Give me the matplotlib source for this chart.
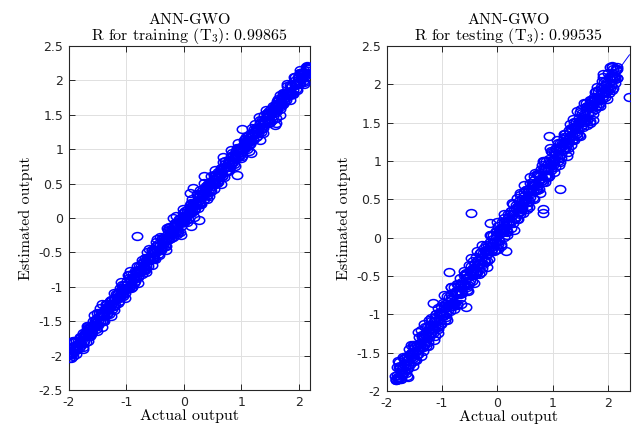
import matplotlib
matplotlib.use("Agg")
import matplotlib.pyplot as plt
from matplotlib.path import Path
import numpy as np

plt.rcParams['mathtext.fontset'] = 'cm'

# ---- training set (actual, estimated) ----
train_actual = [
    -2.02, -2.00, -1.98, -1.96, -1.94, -1.92, -1.90, -1.88, -1.86, -1.84,
    -1.82, -1.80, -1.78, -1.76, -1.74, -1.72, -1.70, -1.68, -1.66, -1.64,
    -1.62, -1.60, -1.58, -1.56, -1.54, -1.52, -1.50, -1.48, -1.46, -1.44,
    -1.42, -1.40, -1.38, -1.36, -1.34, -1.32, -1.30, -1.28, -1.26, -1.24,
    -1.22, -1.20, -1.18, -1.16, -1.14, -1.12, -1.10, -1.08, -1.06, -1.04,
    -1.02, -1.00, -0.98, -0.96, -0.94, -0.92, -0.90, -0.88, -0.86, -0.84,
    -0.82, -0.80, -0.78, -0.76, -0.74, -0.72, -0.70, -0.68, -0.66, -0.64,
    -0.62, -0.60, -0.58, -0.56, -0.54, -0.52, -0.50, -0.48, -0.46, -0.44,
    -0.42, -0.40, -0.38, -0.36, -0.34, -0.32, -0.30, -0.28, -0.26, -0.24,
    -0.22, -0.20, -0.18, -0.16, -0.14, -0.12, -0.10, -0.08, -0.06, -0.04,
    -0.02, 0.00, 0.02, 0.04, 0.06, 0.08, 0.10, 0.12, 0.14, 0.16,
    0.18, 0.20, 0.22, 0.24, 0.26, 0.28, 0.30, 0.32, 0.34, 0.36,
    0.38, 0.40, 0.42, 0.44, 0.46, 0.48, 0.50, 0.52, 0.54, 0.56,
    0.58, 0.60, 0.62, 0.64, 0.66, 0.68, 0.70, 0.72, 0.74, 0.76,
    0.78, 0.80, 0.82, 0.84, 0.86, 0.88, 0.90, 0.92, 0.94, 0.96,
    0.98, 1.00, 1.02, 1.04, 1.06, 1.08, 1.10, 1.12, 1.14, 1.16,
    1.18, 1.20, 1.22, 1.24, 1.26, 1.28, 1.30, 1.32, 1.34, 1.36,
    1.38, 1.40, 1.42, 1.44, 1.46, 1.48, 1.50, 1.52, 1.54, 1.56,
    1.58, 1.60, 1.62, 1.64, 1.66, 1.68, 1.70, 1.72, 1.74, 1.76,
    1.78, 1.80, 1.82, 1.84, 1.86, 1.88, 1.90, 1.92, 1.94, 1.96,
    1.98, 2.00, 2.02, 2.04, 2.06, 2.08, 2.10, 2.12, 2.14, 2.16, 2.18,
    -1.99, -1.95, -1.91, -1.87, -1.83, -1.79, -1.75, -1.71, -1.67, -1.63,
    -1.59, -1.55, -1.51, -1.47, -1.43, -1.39, -1.35, -1.31, -1.27, -1.23,
    -1.19, -1.15, -1.11, -1.07, -1.03, -0.99, -0.95, -0.91, -0.87, -0.83,
    -0.79, -0.75, -0.71, -0.67, -0.63, -0.59, -0.55, -0.51, -0.47, -0.43,
    -0.39, -0.35, -0.31, -0.27, -0.23, -0.19, -0.15, -0.11, -0.07, -0.03,
    0.01, 0.05, 0.09, 0.13, 0.17, 0.21, 0.25, 0.29, 0.33, 0.37,
    0.41, 0.45, 0.49, 0.53, 0.57, 0.61, 0.65, 0.69, 0.73, 0.77,
    0.81, 0.85, 0.89, 0.93, 0.97, 1.01, 1.05, 1.09, 1.13, 1.17,
    1.21, 1.25, 1.29, 1.33, 1.37, 1.41, 1.45, 1.49, 1.53, 1.57,
    1.61, 1.65, 1.69, 1.73, 1.77, 1.81, 1.85, 1.89, 1.93, 1.97,
    2.01, 2.05, 2.09, 2.13, 2.17,
    -1.97, -1.94, -1.91, -1.88, -1.85, -1.82, -1.79, -1.76, -1.73, -1.70,
    -1.67, -1.64, -1.61, -1.58, -1.55, -1.52, -1.49, -1.46, -1.43, -1.40,
    -1.37, -1.34, -1.31, -1.28, -1.25, -1.22, -1.19, -1.16, -1.13, -1.10,
    -1.07, -1.04, -1.01, -0.98, -0.95, -0.92, -0.89, -0.86, -0.83, -0.80,
    -0.77, -0.74, -0.71, -0.68, -0.65, -0.62, -0.59, -0.56, -0.53, -0.50,
    -0.47, -0.44, -0.41, -0.38, -0.35, -0.32, -0.29, -0.26, -0.23, -0.20,
    -0.17, -0.14, -0.11, -0.08, -0.05, -0.02, 0.01, 0.04, 0.07, 0.10,
    0.13, 0.16, 0.19, 0.22, 0.25, 0.28, 0.31, 0.34, 0.37, 0.40,
    0.43, 0.46, 0.49, 0.52, 0.55, 0.58, 0.61, 0.64, 0.67, 0.70,
    0.73, 0.76, 0.79, 0.82, 0.85, 0.88, 0.91, 0.94, 0.97, 1.00,
    1.03, 1.06, 1.09, 1.12, 1.15, 1.18, 1.21, 1.24, 1.27, 1.30,
    1.33, 1.36, 1.39, 1.42, 1.45, 1.48, 1.51, 1.54, 1.57, 1.60,
    1.63, 1.66, 1.69, 1.72, 1.75, 1.78, 1.81, 1.84, 1.87, 1.90,
    1.93, 1.96, 1.99, 2.02, 2.05, 2.08, 2.11, 2.14, 2.17,
    -1.96, -1.91, -1.86, -1.81, -1.76, -1.71, -1.66, -1.61, -1.56, -1.51,
    -1.46, -1.41, -1.36, -1.31, -1.26, -1.21, -1.16, -1.11, -1.06, -1.01,
    -0.96, -0.91, -0.86, -0.81, -0.76, -0.71, -0.66, -0.61, -0.56, -0.51,
    -0.46, -0.41, -0.36, -0.31, -0.26, -0.21, -0.16, -0.11, -0.06, -0.01,
    0.04, 0.09, 0.14, 0.19, 0.24, 0.29, 0.34, 0.39, 0.44, 0.49,
    0.54, 0.59, 0.64, 0.69, 0.74, 0.79, 0.84, 0.89, 0.94, 0.99,
    1.04, 1.09, 1.14, 1.19, 1.24, 1.29, 1.34, 1.39, 1.44, 1.49,
    1.54, 1.59, 1.64, 1.69, 1.74, 1.79, 1.84, 1.89, 1.94, 1.99,
    2.04, 2.09, 2.14,
    -1.93, -1.87, -1.81, -1.75, -1.69, -1.63, -1.57, -1.51, -1.45, -1.39,
    -1.33, -1.27, -1.21, -1.15, -1.09, -1.03, -0.97, -0.91, -0.85, -0.79,
    -0.73, -0.67, -0.61, -0.55, -0.49, -0.43, -0.37, -0.31, -0.25, -0.19,
    -0.13, -0.07, -0.01, 0.05, 0.11, 0.17, 0.23, 0.29, 0.35, 0.41,
    0.47, 0.53, 0.59, 0.65, 0.71, 0.77, 0.83, 0.89, 0.95, 1.01,
    1.07, 1.13, 1.19, 1.25, 1.31, 1.37, 1.43, 1.49, 1.55, 1.61,
    1.67, 1.73, 1.79, 1.85, 1.91, 1.97, 2.03, 2.09, 2.15,
    -0.81, 1.02, -0.64, -0.93, -1.43, -1.43, -1.91, -1.67, -0.46, -0.29,
    -0.19, -0.04, 0.10, 0.16, 0.35, 0.27, 0.12, 1.17, 0.92, 1.61,
    1.58, 1.32, 0.68, 0.54, 1.67, 2.02, 2.19,
]
train_estimated = [
    -1.99, -2.04, -1.90, -1.98, -1.89, -2.01, -1.89, -1.78, -1.90, -1.78,
    -1.89, -1.78, -1.81, -1.67, -1.79, -1.68, -1.80, -1.61, -1.66, -1.72,
    -1.59, -1.66, -1.50, -1.58, -1.49, -1.61, -1.49, -1.38, -1.50, -1.38,
    -1.49, -1.38, -1.41, -1.27, -1.39, -1.28, -1.40, -1.21, -1.26, -1.32,
    -1.19, -1.26, -1.10, -1.18, -1.09, -1.21, -1.09, -0.98, -1.10, -0.98,
    -1.09, -0.98, -1.01, -0.87, -0.99, -0.88, -1.00, -0.81, -0.86, -0.92,
    -0.79, -0.86, -0.70, -0.78, -0.69, -0.81, -0.69, -0.58, -0.70, -0.58,
    -0.69, -0.58, -0.61, -0.47, -0.59, -0.48, -0.60, -0.41, -0.46, -0.52,
    -0.39, -0.46, -0.30, -0.38, -0.29, -0.41, -0.29, -0.18, -0.30, -0.18,
    -0.29, -0.18, -0.21, -0.07, -0.19, -0.08, -0.20, -0.01, -0.06, -0.12,
    0.01, -0.06, 0.10, 0.02, 0.11, -0.01, 0.11, 0.22, 0.10, 0.22,
    0.11, 0.22, 0.19, 0.33, 0.21, 0.32, 0.20, 0.39, 0.34, 0.28,
    0.41, 0.34, 0.50, 0.42, 0.51, 0.39, 0.51, 0.62, 0.50, 0.62,
    0.51, 0.62, 0.59, 0.73, 0.61, 0.72, 0.60, 0.79, 0.74, 0.68,
    0.81, 0.74, 0.90, 0.82, 0.91, 0.79, 0.91, 1.02, 0.90, 1.02,
    0.91, 1.02, 0.99, 1.13, 1.01, 1.12, 1.00, 1.19, 1.14, 1.08,
    1.21, 1.14, 1.30, 1.22, 1.31, 1.19, 1.31, 1.42, 1.30, 1.42,
    1.31, 1.42, 1.39, 1.53, 1.41, 1.52, 1.40, 1.59, 1.54, 1.48,
    1.61, 1.54, 1.70, 1.62, 1.71, 1.59, 1.71, 1.82, 1.70, 1.82,
    1.71, 1.82, 1.79, 1.93, 1.81, 1.92, 1.80, 1.99, 1.94, 1.88,
    2.01, 1.94, 2.10, 2.02, 2.11, 1.99, 2.11, 2.19, 2.10, 2.18, 2.16,
    -1.99, -1.98, -1.87, -1.88, -1.81, -1.84, -1.72, -1.71, -1.70, -1.59,
    -1.60, -1.53, -1.56, -1.44, -1.43, -1.42, -1.31, -1.32, -1.25, -1.28,
    -1.16, -1.15, -1.14, -1.03, -1.04, -0.97, -1.00, -0.88, -0.87, -0.86,
    -0.75, -0.76, -0.69, -0.72, -0.60, -0.59, -0.58, -0.47, -0.48, -0.41,
    -0.44, -0.32, -0.31, -0.30, -0.19, -0.20, -0.13, -0.16, -0.04, -0.03,
    -0.02, 0.09, 0.08, 0.15, 0.12, 0.24, 0.25, 0.26, 0.37, 0.36,
    0.43, 0.40, 0.52, 0.53, 0.54, 0.65, 0.64, 0.71, 0.68, 0.80,
    0.81, 0.82, 0.93, 0.92, 0.99, 0.96, 1.08, 1.09, 1.10, 1.21,
    1.20, 1.27, 1.24, 1.36, 1.37, 1.38, 1.49, 1.48, 1.55, 1.52,
    1.64, 1.65, 1.66, 1.77, 1.76, 1.83, 1.80, 1.92, 1.93, 1.94,
    2.05, 2.04, 2.11, 2.08, 2.18,
    -1.95, -1.96, -1.86, -1.92, -1.84, -1.83, -1.73, -1.82, -1.70, -1.68,
    -1.69, -1.59, -1.65, -1.57, -1.56, -1.46, -1.55, -1.43, -1.41, -1.42,
    -1.32, -1.38, -1.30, -1.29, -1.19, -1.28, -1.16, -1.14, -1.15, -1.05,
    -1.11, -1.03, -1.02, -0.92, -1.01, -0.89, -0.87, -0.88, -0.78, -0.84,
    -0.76, -0.75, -0.65, -0.74, -0.62, -0.60, -0.61, -0.51, -0.57, -0.49,
    -0.48, -0.38, -0.47, -0.35, -0.33, -0.34, -0.24, -0.30, -0.22, -0.21,
    -0.11, -0.20, -0.08, -0.06, -0.07, 0.03, -0.03, 0.05, 0.06, 0.16,
    0.07, 0.19, 0.21, 0.20, 0.30, 0.24, 0.32, 0.33, 0.43, 0.34,
    0.46, 0.48, 0.47, 0.57, 0.51, 0.59, 0.60, 0.70, 0.61, 0.73,
    0.75, 0.74, 0.84, 0.78, 0.86, 0.87, 0.97, 0.88, 1.00, 1.02,
    1.01, 1.11, 1.05, 1.13, 1.14, 1.24, 1.15, 1.27, 1.29, 1.28,
    1.38, 1.32, 1.40, 1.41, 1.51, 1.42, 1.54, 1.56, 1.55, 1.65,
    1.59, 1.67, 1.68, 1.78, 1.69, 1.81, 1.83, 1.82, 1.92, 1.86,
    1.94, 1.95, 2.05, 1.96, 2.08, 2.10, 2.09, 2.19, 2.13,
    -2.03, -1.80, -1.88, -1.74, -1.88, -1.67, -1.57, -1.68, -1.56, -1.38,
    -1.51, -1.50, -1.25, -1.33, -1.19, -1.33, -1.12, -1.02, -1.13, -1.01,
    -0.83, -0.96, -0.95, -0.70, -0.78, -0.64, -0.78, -0.57, -0.47, -0.58,
    -0.46, -0.28, -0.41, -0.40, -0.15, -0.23, -0.09, -0.23, -0.02, 0.08,
    -0.03, 0.09, 0.27, 0.14, 0.15, 0.40, 0.32, 0.46, 0.32, 0.53,
    0.63, 0.52, 0.64, 0.82, 0.69, 0.70, 0.95, 0.87, 1.01, 0.87,
    1.08, 1.18, 1.07, 1.19, 1.37, 1.24, 1.25, 1.50, 1.42, 1.56,
    1.42, 1.63, 1.73, 1.62, 1.74, 1.92, 1.79, 1.80, 2.05, 1.97,
    2.11, 1.97, 2.18,
    -1.79, -1.98, -1.73, -1.90, -1.57, -1.71, -1.41, -1.64, -1.31, -1.50,
    -1.25, -1.42, -1.09, -1.23, -0.93, -1.16, -0.83, -1.02, -0.77, -0.94,
    -0.61, -0.75, -0.45, -0.68, -0.35, -0.54, -0.29, -0.46, -0.13, -0.27,
    0.03, -0.20, 0.13, -0.06, 0.19, 0.02, 0.35, 0.21, 0.51, 0.28,
    0.61, 0.42, 0.67, 0.50, 0.83, 0.69, 0.99, 0.76, 1.09, 0.90,
    1.15, 0.98, 1.31, 1.17, 1.47, 1.24, 1.57, 1.38, 1.63, 1.46,
    1.79, 1.65, 1.95, 1.72, 2.05, 1.86, 2.11, 1.94, 2.21,
    -0.26, 1.30, -0.50, -0.77, -1.25, -1.59, -1.79, -1.78, -0.30, -0.14,
    0.00, -0.25, 0.36, 0.44, 0.61, -0.03, -0.12, 0.95, 0.62, 1.38,
    1.35, 1.13, 0.89, 0.70, 1.50, 2.15, 2.20,
]

# ---- testing set (actual, estimated) ----
test_actual = [
    -1.85, -1.83, -1.81, -1.79, -1.77, -1.75, -1.73, -1.71, -1.69, -1.67,
    -1.65, -1.63, -1.61, -1.59, -1.57, -1.55, -1.53, -1.51, -1.49, -1.47,
    -1.45, -1.43, -1.41, -1.39, -1.37, -1.35, -1.33, -1.31, -1.29, -1.27,
    -1.25, -1.23, -1.21, -1.19, -1.17, -1.15, -1.13, -1.11, -1.09, -1.07,
    -1.05, -1.03, -1.01, -0.99, -0.97, -0.95, -0.93, -0.91, -0.89, -0.87,
    -0.85, -0.83, -0.81, -0.79, -0.77, -0.75, -0.73, -0.71, -0.69, -0.67,
    -0.65, -0.63, -0.61, -0.59, -0.57, -0.55, -0.53, -0.51, -0.49, -0.47,
    -0.45, -0.43, -0.41, -0.39, -0.37, -0.35, -0.33, -0.31, -0.29, -0.27,
    -0.25, -0.23, -0.21, -0.19, -0.17, -0.15, -0.13, -0.11, -0.09, -0.07,
    -0.05, -0.03, -0.01, 0.01, 0.03, 0.05, 0.07, 0.09, 0.11, 0.13,
    0.15, 0.17, 0.19, 0.21, 0.23, 0.25, 0.27, 0.29, 0.31, 0.33,
    0.35, 0.37, 0.39, 0.41, 0.43, 0.45, 0.47, 0.49, 0.51, 0.53,
    0.55, 0.57, 0.59, 0.61, 0.63, 0.65, 0.67, 0.69, 0.71, 0.73,
    0.75, 0.77, 0.79, 0.81, 0.83, 0.85, 0.87, 0.89, 0.91, 0.93,
    0.95, 0.97, 0.99, 1.01, 1.03, 1.05, 1.07, 1.09, 1.11, 1.13,
    1.15, 1.17, 1.19, 1.21, 1.23, 1.25, 1.27, 1.29, 1.31, 1.33,
    1.35, 1.37, 1.39, 1.41, 1.43, 1.45, 1.47, 1.49, 1.51, 1.53,
    1.55, 1.57, 1.59, 1.61, 1.63, 1.65, 1.67, 1.69, 1.71, 1.73,
    1.75, 1.77, 1.79, 1.81, 1.83, 1.85, 1.87, 1.89, 1.91, 1.93,
    1.95, 1.97, 1.99, 2.01, 2.03, 2.05, 2.07, 2.09, 2.11, 2.13, 2.15, 2.17,
    -1.84, -1.80, -1.76, -1.72, -1.68, -1.64, -1.60, -1.56, -1.52, -1.48,
    -1.44, -1.40, -1.36, -1.32, -1.28, -1.24, -1.20, -1.16, -1.12, -1.08,
    -1.04, -1.00, -0.96, -0.92, -0.88, -0.84, -0.80, -0.76, -0.72, -0.68,
    -0.64, -0.60, -0.56, -0.52, -0.48, -0.44, -0.40, -0.36, -0.32, -0.28,
    -0.24, -0.20, -0.16, -0.12, -0.08, -0.04, 0.00, 0.04, 0.08, 0.12,
    0.16, 0.20, 0.24, 0.28, 0.32, 0.36, 0.40, 0.44, 0.48, 0.52,
    0.56, 0.60, 0.64, 0.68, 0.72, 0.76, 0.80, 0.84, 0.88, 0.92,
    0.96, 1.00, 1.04, 1.08, 1.12, 1.16, 1.20, 1.24, 1.28, 1.32,
    1.36, 1.40, 1.44, 1.48, 1.52, 1.56, 1.60, 1.64, 1.68, 1.72,
    1.76, 1.80, 1.84, 1.88, 1.92, 1.96, 2.00, 2.04, 2.08, 2.12, 2.16,
    -1.82, -1.79, -1.76, -1.73, -1.70, -1.67, -1.64, -1.61, -1.58, -1.55,
    -1.52, -1.49, -1.46, -1.43, -1.40, -1.37, -1.34, -1.31, -1.28, -1.25,
    -1.22, -1.19, -1.16, -1.13, -1.10, -1.07, -1.04, -1.01, -0.98, -0.95,
    -0.92, -0.89, -0.86, -0.83, -0.80, -0.77, -0.74, -0.71, -0.68, -0.65,
    -0.62, -0.59, -0.56, -0.53, -0.50, -0.47, -0.44, -0.41, -0.38, -0.35,
    -0.32, -0.29, -0.26, -0.23, -0.20, -0.17, -0.14, -0.11, -0.08, -0.05,
    -0.02, 0.01, 0.04, 0.07, 0.10, 0.13, 0.16, 0.19, 0.22, 0.25,
    0.28, 0.31, 0.34, 0.37, 0.40, 0.43, 0.46, 0.49, 0.52, 0.55,
    0.58, 0.61, 0.64, 0.67, 0.70, 0.73, 0.76, 0.79, 0.82, 0.85,
    0.88, 0.91, 0.94, 0.97, 1.00, 1.03, 1.06, 1.09, 1.12, 1.15,
    1.18, 1.21, 1.24, 1.27, 1.30, 1.33, 1.36, 1.39, 1.42, 1.45,
    1.48, 1.51, 1.54, 1.57, 1.60, 1.63, 1.66, 1.69, 1.72, 1.75,
    1.78, 1.81, 1.84, 1.87, 1.90, 1.93, 1.96, 1.99, 2.02, 2.05,
    2.08, 2.11, 2.14, 2.17,
    -1.83, -1.78, -1.73, -1.68, -1.63, -1.58, -1.53, -1.48, -1.43, -1.38,
    -1.33, -1.28, -1.23, -1.18, -1.13, -1.08, -1.03, -0.98, -0.93, -0.88,
    -0.83, -0.78, -0.73, -0.68, -0.63, -0.58, -0.53, -0.48, -0.43, -0.38,
    -0.33, -0.28, -0.23, -0.18, -0.13, -0.08, -0.03, 0.02, 0.07, 0.12,
    0.17, 0.22, 0.27, 0.32, 0.37, 0.42, 0.47, 0.52, 0.57, 0.62,
    0.67, 0.72, 0.77, 0.82, 0.87, 0.92, 0.97, 1.02, 1.07, 1.12,
    1.17, 1.22, 1.27, 1.32, 1.37, 1.42, 1.47, 1.52, 1.57, 1.62,
    1.67, 1.72, 1.77, 1.82, 1.87, 1.92, 1.97, 2.02, 2.07, 2.12,
    -1.80, -1.74, -1.68, -1.62, -1.56, -1.50, -1.44, -1.38, -1.32, -1.26,
    -1.20, -1.14, -1.08, -1.02, -0.96, -0.90, -0.84, -0.78, -0.72, -0.66,
    -0.60, -0.54, -0.48, -0.42, -0.36, -0.30, -0.24, -0.18, -0.12, -0.06,
    0.00, 0.06, 0.12, 0.18, 0.24, 0.30, 0.36, 0.42, 0.48, 0.54,
    0.60, 0.66, 0.72, 0.78, 0.84, 0.90, 0.96, 1.02, 1.08, 1.14,
    1.20, 1.26, 1.32, 1.38, 1.44, 1.50, 1.56, 1.62, 1.68, 1.74,
    1.80, 1.86, 1.92, 1.98, 2.04, 2.10, 2.16,
    -0.48, 1.13, 0.93, 0.83, 0.82, 0.15, -0.87, -1.16, -0.57, -0.14,
    2.39, 2.07, -1.80,
]
test_estimated = [
    -1.80, -1.86, -1.69, -1.82, -1.69, -1.84, -1.71, -1.56, -1.75, -1.57,
    -1.76, -1.59, -1.66, -1.45, -1.65, -1.49, -1.68, -1.40, -1.49, -1.59,
    -1.40, -1.52, -1.29, -1.42, -1.29, -1.48, -1.31, -1.16, -1.35, -1.17,
    -1.36, -1.19, -1.26, -1.05, -1.25, -1.09, -1.28, -1.00, -1.09, -1.19,
    -1.00, -1.12, -0.89, -1.02, -0.89, -1.08, -0.91, -0.76, -0.95, -0.77,
    -0.96, -0.79, -0.86, -0.65, -0.85, -0.69, -0.88, -0.60, -0.69, -0.79,
    -0.60, -0.72, -0.49, -0.62, -0.49, -0.68, -0.51, -0.36, -0.55, -0.37,
    -0.56, -0.39, -0.46, -0.25, -0.45, -0.29, -0.48, -0.20, -0.29, -0.39,
    -0.20, -0.32, -0.09, -0.22, -0.09, -0.28, -0.11, 0.04, -0.15, 0.03,
    -0.16, 0.01, -0.06, 0.15, -0.05, 0.11, -0.08, 0.20, 0.11, 0.01,
    0.20, 0.08, 0.31, 0.18, 0.31, 0.12, 0.29, 0.44, 0.25, 0.43,
    0.24, 0.41, 0.34, 0.55, 0.35, 0.51, 0.32, 0.60, 0.51, 0.41,
    0.60, 0.48, 0.71, 0.58, 0.71, 0.52, 0.69, 0.84, 0.65, 0.83,
    0.64, 0.81, 0.74, 0.95, 0.75, 0.91, 0.72, 1.00, 0.91, 0.81,
    1.00, 0.88, 1.11, 0.98, 1.11, 0.92, 1.09, 1.24, 1.05, 1.23,
    1.04, 1.21, 1.14, 1.35, 1.15, 1.31, 1.12, 1.40, 1.31, 1.21,
    1.40, 1.28, 1.51, 1.38, 1.51, 1.32, 1.49, 1.64, 1.45, 1.63,
    1.44, 1.61, 1.54, 1.75, 1.55, 1.71, 1.52, 1.80, 1.71, 1.61,
    1.80, 1.68, 1.91, 1.78, 1.91, 1.72, 1.89, 2.04, 1.85, 2.03,
    1.84, 2.01, 1.94, 2.15, 1.95, 2.11, 1.92, 2.20, 2.11, 2.01, 2.19, 2.08,
    -1.84, -1.85, -1.70, -1.74, -1.65, -1.71, -1.56, -1.56, -1.57, -1.42,
    -1.46, -1.37, -1.43, -1.28, -1.28, -1.29, -1.14, -1.18, -1.09, -1.15,
    -1.00, -1.00, -1.01, -0.86, -0.90, -0.81, -0.87, -0.72, -0.72, -0.73,
    -0.58, -0.62, -0.53, -0.59, -0.44, -0.44, -0.45, -0.30, -0.34, -0.25,
    -0.31, -0.16, -0.16, -0.17, -0.02, -0.06, 0.03, -0.03, 0.12, 0.12,
    0.11, 0.26, 0.22, 0.31, 0.25, 0.40, 0.40, 0.39, 0.54, 0.50,
    0.59, 0.53, 0.68, 0.68, 0.67, 0.82, 0.78, 0.87, 0.81, 0.96,
    0.96, 0.95, 1.10, 1.06, 1.15, 1.09, 1.24, 1.24, 1.23, 1.38,
    1.34, 1.43, 1.37, 1.52, 1.52, 1.51, 1.66, 1.62, 1.71, 1.65,
    1.80, 1.80, 1.79, 1.94, 1.90, 1.99, 1.93, 2.08, 2.08, 2.07, 2.22,
    -1.79, -1.82, -1.68, -1.79, -1.69, -1.68, -1.54, -1.70, -1.53, -1.52,
    -1.55, -1.41, -1.52, -1.42, -1.41, -1.27, -1.43, -1.26, -1.25, -1.28,
    -1.14, -1.25, -1.15, -1.14, -1.00, -1.16, -0.99, -0.98, -1.01, -0.87,
    -0.98, -0.88, -0.87, -0.73, -0.89, -0.72, -0.71, -0.74, -0.60, -0.71,
    -0.61, -0.60, -0.46, -0.62, -0.45, -0.44, -0.47, -0.33, -0.44, -0.34,
    -0.33, -0.19, -0.35, -0.18, -0.17, -0.20, -0.06, -0.17, -0.07, -0.06,
    0.08, -0.08, 0.09, 0.10, 0.07, 0.21, 0.10, 0.20, 0.21, 0.35,
    0.19, 0.36, 0.37, 0.34, 0.48, 0.37, 0.47, 0.48, 0.62, 0.46,
    0.63, 0.64, 0.61, 0.75, 0.64, 0.74, 0.75, 0.89, 0.73, 0.90,
    0.91, 0.88, 1.02, 0.91, 1.01, 1.02, 1.16, 1.00, 1.17, 1.18,
    1.15, 1.29, 1.18, 1.28, 1.29, 1.43, 1.27, 1.44, 1.45, 1.42,
    1.56, 1.45, 1.55, 1.56, 1.70, 1.54, 1.71, 1.72, 1.69, 1.83,
    1.72, 1.82, 1.83, 1.97, 1.81, 1.98, 1.99, 1.96, 2.10, 1.99,
    2.09, 2.10, 2.20, 2.08,
    -1.86, -1.62, -1.76, -1.58, -1.80, -1.52, -1.40, -1.58, -1.43, -1.20,
    -1.40, -1.41, -1.07, -1.21, -1.03, -1.25, -0.97, -0.85, -1.03, -0.88,
    -0.65, -0.85, -0.86, -0.52, -0.66, -0.48, -0.70, -0.42, -0.30, -0.48,
    -0.33, -0.10, -0.30, -0.31, 0.03, -0.11, 0.07, -0.15, 0.13, 0.25,
    0.07, 0.22, 0.45, 0.25, 0.24, 0.58, 0.44, 0.62, 0.40, 0.68,
    0.80, 0.62, 0.77, 1.00, 0.80, 0.79, 1.13, 0.99, 1.17, 0.95,
    1.23, 1.35, 1.17, 1.32, 1.55, 1.35, 1.34, 1.68, 1.54, 1.72,
    1.50, 1.78, 1.90, 1.72, 1.87, 2.10, 1.90, 1.89, 2.23, 2.09,
    -1.61, -1.84, -1.57, -1.82, -1.40, -1.61, -1.23, -1.55, -1.13, -1.41,
    -1.09, -1.34, -0.92, -1.13, -0.75, -1.07, -0.65, -0.93, -0.61, -0.86,
    -0.44, -0.65, -0.27, -0.59, -0.17, -0.45, -0.13, -0.38, 0.04, -0.17,
    0.21, -0.11, 0.31, 0.03, 0.35, 0.10, 0.52, 0.31, 0.69, 0.37,
    0.79, 0.51, 0.83, 0.58, 1.00, 0.79, 1.17, 0.85, 1.27, 0.99,
    1.31, 1.06, 1.48, 1.27, 1.65, 1.33, 1.75, 1.47, 1.79, 1.54,
    1.96, 1.75, 2.13, 1.81, 2.23, 1.95, 2.20,
    0.32, 0.64, 1.32, 0.32, 0.37, -0.18, -0.45, -0.85, -0.90, 0.19,
    1.83, 2.24, -1.85,
]

panels = [
    (train_actual, train_estimated, "training", "0.99865", (-2, 2.2), (-2.5, 2.5),
     [-2.5, -2, -1.5, -1, -0.5, 0, 0.5, 1, 1.5, 2, 2.5], [0.108, 0.082, 0.379, 0.810]),
    (test_actual, test_estimated, "testing", "0.99535", (-2, 2.4), (-2, 2.5),
     [-2, -1.5, -1, -0.5, 0, 0.5, 1, 1.5, 2, 2.5], [0.607, 0.080, 0.382, 0.812]),
]

# the source figure was stretched sideways, so the circles come out as flat ellipses
circ = Path.unit_circle()
oval = Path(circ.vertices * [1.0, 0.75], circ.codes)

fig = plt.figure(figsize=(6.37, 4.25), dpi=100)
edge = (0.15, 0.15, 0.15)

for xs, ys, name, r_val, xlim, ylim, yticks, rect in panels:
    ax = fig.add_axes(rect)
    xs = np.array(xs)
    ys = np.array(ys)
    ax.plot(xs, ys, linestyle='none', marker=oval, mfc='none', mec='b',
            ms=7.5, mew=1.1, zorder=3)
    # least squares fit line over the data range
    coef = np.polyfit(xs, ys, 1)
    xl = np.array([xs.min(), xs.max()])
    ax.plot(xl, np.polyval(coef, xl), '-', color='b', lw=0.7, zorder=4)

    ax.set_xlim(xlim)
    ax.set_ylim(ylim)
    ax.set_xticks([-2, -1, 0, 1, 2])
    ax.set_xticklabels(["-2", "-1", "0", "1", "2"])
    ax.set_yticks(yticks)
    ax.set_yticklabels([f"{v:g}" for v in yticks])
    ax.grid(True, color=(0.88, 0.88, 0.88), lw=0.7)
    ax.set_axisbelow(True)
    for s in ax.spines.values():
        s.set_color(edge)
        s.set_linewidth(0.8)
    ax.tick_params(direction='in', length=4, width=0.7, color=edge, labelcolor=edge,
                   top=True, right=True, labelsize=9, pad=4)
    for lab in ax.get_xticklabels() + ax.get_yticklabels():
        lab.set_fontfamily('DejaVu Sans')

    ax.set_title("ANN-GWO\nR for " + name + r" ($\mathrm{T}_3$): " + r_val,
                 fontfamily='cmr10', fontsize=11.5, pad=4, linespacing=0.95)
    ax.set_xlabel("Actual output", fontfamily='cmr10', fontsize=11.5, labelpad=0)
    ax.set_ylabel("Estimated output", fontfamily='cmr10', fontsize=11.5, labelpad=4)

fig.savefig("out.png", dpi=100)
